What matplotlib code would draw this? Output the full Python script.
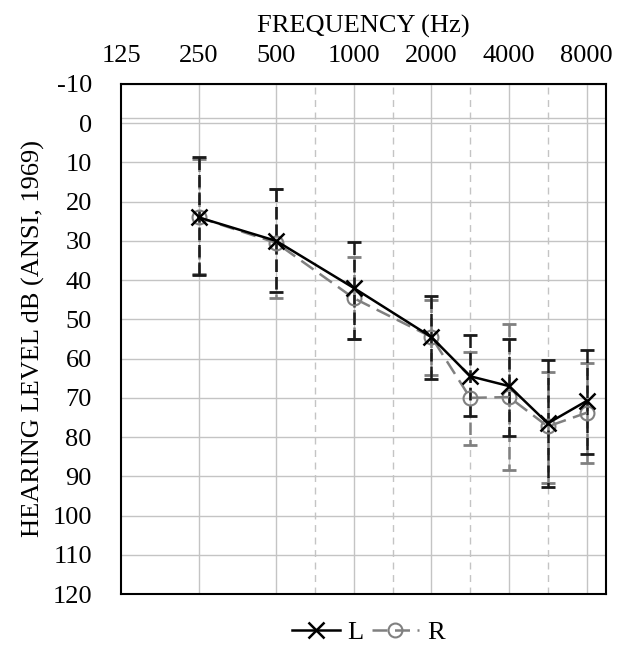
import matplotlib
matplotlib.use("Agg")
import matplotlib.pyplot as plt
import numpy as np

plt.rcParams['font.family'] = ['Liberation Serif', 'DejaVu Serif']

freqs = [250, 500, 1000, 2000, 3000, 4000, 6000, 8000]

left_mean = [24, 30, 42, 54.5, 64.5, 67, 76.5, 70.8]
left_top = [8.5, 16.8, 30.4, 44, 54, 55, 60.3, 57.8]
left_bot = [38.7, 43, 55, 65.2, 74.5, 79.8, 92.8, 84.2]

right_mean = [24, 30.5, 44.6, 54.5, 70, 69.8, 77.3, 73.8]
right_top = [9, 16.8, 34, 45, 58.2, 51.3, 63.3, 61]
right_bot = [38.5, 44.5, 55, 64.2, 82, 88.4, 91.6, 86.7]

octave_ticks = [125, 250, 500, 1000, 2000, 4000, 8000]
mid_ticks = [750, 1500, 3000, 6000]
db_ticks = list(range(-10, 121, 10))


def fx(f):
    # audiogram style axis: octaves evenly spaced, linear inside an octave
    f = np.asarray(f, dtype=float)
    octv = np.floor(np.log2(f / 125.0) + 1e-9)
    return octv + (f / (125.0 * 2 ** octv) - 1.0)


fig = plt.figure(figsize=(6.28, 6.47), dpi=100)
ax = fig.add_axes([0.1927, 0.0819, 0.7723, 0.7883])

x = fx(freqs)
lm = np.array(left_mean)
rm = np.array(right_mean)
l_err = [lm - np.array(left_top), np.array(left_bot) - lm]
r_err = [rm - np.array(right_top), np.array(right_bot) - rm]

# grid
for v in db_ticks:
    ax.axhline(v, color='#c4c4c4', lw=1.0, zorder=0)
ax.axhline(-1.3, color='#c4c4c4', lw=1.0, zorder=0)
for f in octave_ticks[1:]:
    ax.axvline(fx(f), color='#c4c4c4', lw=1.0, zorder=0)
for f in mid_ticks:
    ax.axvline(fx(f), color='#c4c4c4', lw=1.0, ls=(0, (5, 4)), zorder=0)

eb = ax.errorbar(x, rm, yerr=r_err, fmt='none', ecolor='#808080',
                 elinewidth=1.8, capsize=5, capthick=2, zorder=2)
eb[2][0].set_linestyle((0, (5, 2)))
eb = ax.errorbar(x, lm, yerr=l_err, fmt='none', ecolor='#1a1a1a',
                 elinewidth=1.8, capsize=5, capthick=2, zorder=3)
eb[2][0].set_linestyle((0, (5, 2)))

ax.plot(x, lm, color='black', lw=1.8, marker='x', ms=11, mew=1.8,
        label='L', zorder=5)
ax.plot(x, rm, color='#808080', lw=1.8, ls=(0, (6, 3)), marker='o', ms=10,
        mfc='none', mew=1.5, label='R', zorder=4)

ax.set_xlim(0, 6.25)
ax.set_ylim(120, -10)
ax.set_yticks(db_ticks)
ax.set_yticklabels([str(v) for v in db_ticks])
ax.xaxis.tick_top()
ax.xaxis.set_label_position('top')
ax.set_xticks(fx(octave_ticks))
ax.set_xticklabels([str(f) for f in octave_ticks])
ax.tick_params(axis='both', length=0, labelsize=19)
ax.tick_params(axis='y', pad=21)
ax.tick_params(axis='x', pad=12)
ax.set_xlabel('FREQUENCY (Hz)', fontsize=19, labelpad=9)
ax.set_ylabel('HEARING LEVEL dB (ANSI, 1969)', fontsize=19, labelpad=5)

for s in ax.spines.values():
    s.set_linewidth(1.5)
    s.set_color('black')

ax.legend(loc='center', bbox_to_anchor=(0.51, -0.075), ncol=2,
          frameon=False, fontsize=19, handlelength=1.8, columnspacing=0.3,
          handletextpad=0.3, numpoints=1, borderpad=0)

fig.savefig('out.png', dpi=100)
